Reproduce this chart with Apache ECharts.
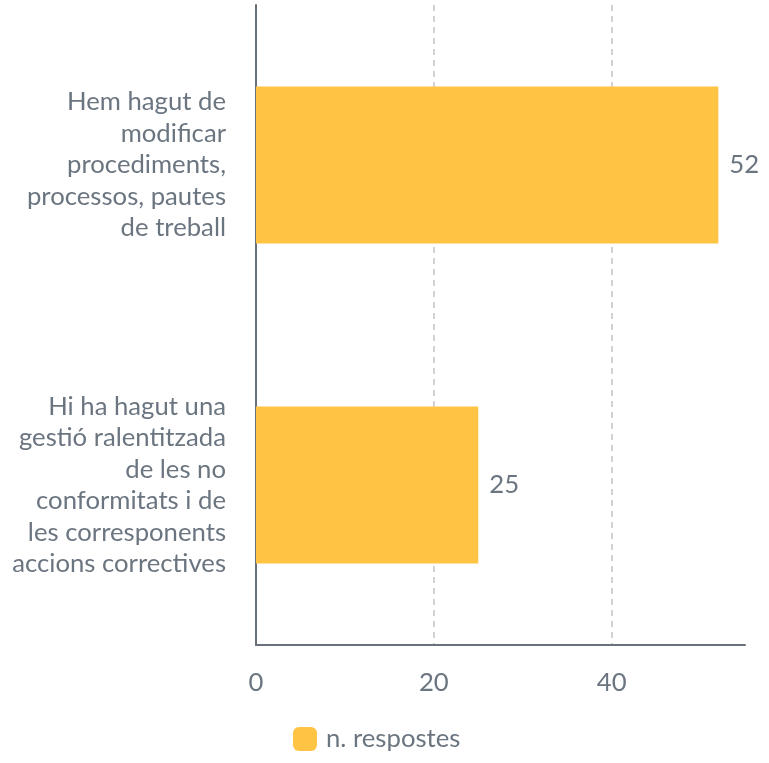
<!DOCTYPE html>
<html>
<head>
<meta charset="utf-8">
<script src="https://cdn.jsdelivr.net/npm/echarts@6/dist/echarts.min.js"></script>
<style>
  html, body { margin: 0; padding: 0; background: #fff; }
  #chart { width: 769px; height: 763px; }
</style>
</head>
<body>
<div id="chart"></div>
<script>
// categories (top to bottom)
const categories = [
  "Hem hagut de\nmodificar\nprocediments,\nprocessos, pautes\nde treball",
  "Hi ha hagut una\ngestió ralentitzada\nde les no\nconformitats i de\nles corresponents\naccions correctives"
];
const respostes = [52, 25];
const seriesName = "n. respostes";

const textColor = "#6b7580";
const font = "Lato";
const fs = 25.7;

const chart = echarts.init(document.getElementById("chart"));
chart.setOption({
  animation: false,
  textStyle: { fontFamily: font },
  grid: { left: 256, right: 24, top: 5, bottom: 118, containLabel: false },
  legend: {
    data: [seriesName],
    bottom: 6,
    left: 288,
    itemWidth: 24,
    itemHeight: 24,
    textStyle: { color: textColor, fontSize: fs, fontFamily: font, padding: [0, 0, 0, 4] }
  },
  xAxis: {
    type: "value",
    min: 0,
    max: 55,
    interval: 20,
    axisLine: { show: true, lineStyle: { color: "#68717a", width: 2 } },
    axisTick: { show: false },
    axisLabel: { color: textColor, fontSize: fs, margin: 25, showMaxLabel: false },
    splitLine: { show: true, showMaxLine: false, lineStyle: { color: "#c4c4c4", type: [6, 5], width: 1.5 } }
  },
  yAxis: {
    type: "category",
    inverse: true,
    data: categories,
    axisLine: { show: true, lineStyle: { color: "#68717a", width: 2 } },
    axisTick: { show: false },
    axisLabel: { color: textColor, fontSize: fs, lineHeight: 31.5, margin: 30, align: "right" }
  },
  series: [{
    name: seriesName,
    type: "bar",
    data: respostes,
    barWidth: "49%",
    itemStyle: { color: "#ffc444" },
    label: { show: true, position: "right", distance: 11, color: textColor, fontSize: fs, fontFamily: font }
  }]
});
</script>
</body>
</html>
